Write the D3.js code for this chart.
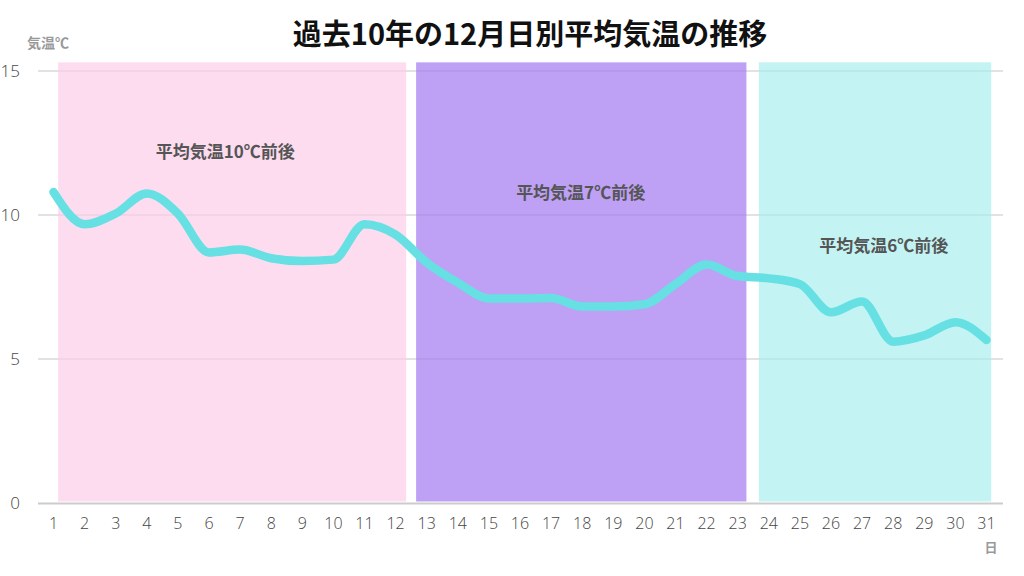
<!DOCTYPE html>
<html><head><meta charset="utf-8">
<script src="https://cdn.jsdelivr.net/npm/d3@7"></script>
<style>
html,body{margin:0;padding:0;background:#fff;}
svg{display:block;}
</style></head>
<body>
<svg id="chart" width="1024" height="576"></svg>
<script>
const days = d3.range(1, 32);
const temps = [10.8, 9.68, 10.05, 10.75, 10.05, 8.7, 8.8, 8.5, 8.4, 8.45, 9.68, 9.32,
  8.35, 7.65, 7.1, 7.1, 7.12, 6.82, 6.82, 6.9, 7.6, 8.28, 7.88, 7.8, 7.6, 6.62, 7.0, 5.6, 5.82, 6.28, 5.66];
const yTicks = [0, 5, 10, 15];
const bandStarts = [1.15, 12.66, 23.68];
const bandEnds = [12.34, 23.28, 31.15];
const bandTops = [15.3, 15.3, 15.3];
const bandColors = ["#fddcf0", "#bea0f5", "#c3f3f3"];
const bandLabels = ["平均気温10℃前後", "平均気温7℃前後", "平均気温6℃前後"];
const labelX = [6.52, 17.95, 27.7];
const labelY = [11.97, 10.57, 8.72];

const svg = d3.select("#chart");
const x = d3.scaleLinear().domain([1, 31]).range([53.5, 986.5]);
const y = d3.scaleLinear().domain([0, 15]).range([503, 71]);
const left = 38, right = 1003;

// grid
svg.append("g").selectAll("line").data(yTicks.filter(d => d > 0)).join("line")
  .attr("x1", left).attr("x2", right)
  .attr("y1", d => y(d)).attr("y2", d => y(d))
  .attr("stroke", "#d9d9d9").attr("stroke-width", 1);

// bands
svg.append("g").selectAll("rect").data(bandStarts).join("rect")
  .attr("x", (d, i) => x(d))
  .attr("width", (d, i) => x(bandEnds[i]) - x(d))
  .attr("y", (d, i) => y(bandTops[i]))
  .attr("height", (d, i) => y(0) - 1.5 - y(bandTops[i]))
  .attr("fill", (d, i) => bandColors[i]);

// grid lines faint over bands
svg.append("g").selectAll("line").data(yTicks.filter(d => d > 0)).join("line")
  .attr("x1", left).attr("x2", right)
  .attr("y1", d => y(d)).attr("y2", d => y(d))
  .attr("stroke", "rgba(0,0,0,0.08)").attr("stroke-width", 1);

// baseline
svg.append("line").attr("x1", left).attr("x2", right)
  .attr("y1", y(0) + 0.5).attr("y2", y(0) + 0.5)
  .attr("stroke", "#cccccc").attr("stroke-width", 2);

// band labels
svg.append("g").selectAll("text").data(bandLabels).join("text")
  .attr("x", (d, i) => x(labelX[i]))
  .attr("y", (d, i) => y(labelY[i]))
  .attr("text-anchor", "middle")
  .attr("font-family", "'Noto Sans CJK JP', sans-serif")
  .attr("font-weight", 700).attr("font-size", 17)
  .attr("fill", "#555555")
  .text(d => d);

// line
const line = d3.line().x((d, i) => x(days[i])).y(d => y(d)).curve(d3.curveMonotoneX);
svg.append("path").datum(temps)
  .attr("d", line)
  .attr("fill", "none")
  .attr("stroke", "#66e0e3")
  .attr("stroke-width", 8.5)
  .attr("stroke-linecap", "round")
  .attr("stroke-linejoin", "round");

// y tick labels
svg.append("g").selectAll("text").data(yTicks).join("text")
  .attr("x", 20).attr("y", d => y(d))
  .attr("dy", "0.35em")
  .attr("text-anchor", "end")
  .attr("font-family", "'Open Sans', sans-serif")
  .attr("font-weight", 300).attr("font-size", 17)
  .attr("fill", "#444444")
  .text(d => d);

// x tick labels
svg.append("g").selectAll("text").data(days).join("text")
  .attr("x", d => x(d)).attr("y", 529)
  .attr("text-anchor", "middle")
  .attr("font-family", "'Open Sans', sans-serif")
  .attr("font-weight", 300).attr("font-size", 16)
  .attr("fill", "#444444")
  .text(d => d);

// axis titles
svg.append("text").attr("x", 27).attr("y", 48)
  .attr("font-family", "'Noto Sans CJK JP', sans-serif")
  .attr("font-weight", 700).attr("font-size", 14)
  .attr("fill", "#999999").text("気温℃");
svg.append("text").attr("x", 991).attr("y", 552)
  .attr("text-anchor", "middle")
  .attr("font-family", "'Noto Sans CJK JP', sans-serif")
  .attr("font-weight", 700).attr("font-size", 13)
  .attr("fill", "#999999").text("日");

// title
svg.append("text").attr("x", 530).attr("y", 45)
  .attr("text-anchor", "middle")
  .attr("font-family", "'Noto Sans CJK JP', sans-serif")
  .attr("font-weight", 700).attr("font-size", 29)
  .attr("fill", "#111111").text("過去10年の12月日別平均気温の推移");
</script>
</body></html>
